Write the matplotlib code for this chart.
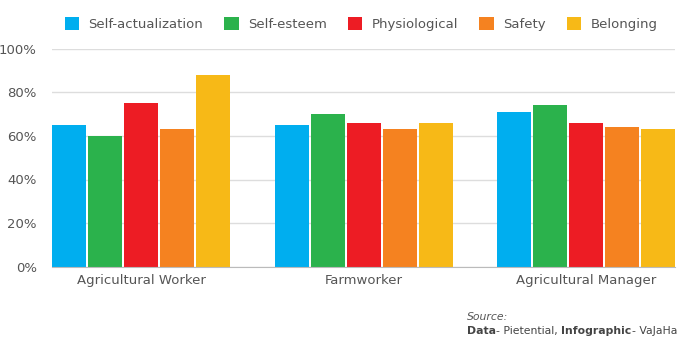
import numpy as np
import matplotlib
matplotlib.use('Agg')
import matplotlib.pyplot as plt
from matplotlib.patches import Patch

groups = ['Agricultural Worker', 'Farmworker', 'Agricultural Manager']
series = ['Self-actualization', 'Self-esteem', 'Physiological', 'Safety', 'Belonging']
self_actualization = [65, 65, 71]
self_esteem = [60, 70, 74]
physiological = [75, 66, 66]
safety = [63, 63, 64]
belonging = [88, 66, 63]
values = [self_actualization, self_esteem, physiological, safety, belonging]
colors = ['#00AEEF', '#2BB24C', '#ED1C24', '#F58220', '#F7B917']
yticks = [0, 20, 40, 60, 80, 100]

plt.rcParams['font.family'] = ['DejaVu Sans']
text_col = '#555555'

fig = plt.figure(figsize=(6.91, 3.52), dpi=100)
W, H = 691, 352
ax = fig.add_axes([52 / W, (H - 266.7) / H, (675 - 52) / W, 218 / H])

# ----------------------------------------------------------------------------
# grouped bars
# ----------------------------------------------------------------------------
pitch = 36 / 222.5
width = 34 / 222.5
x = np.arange(len(groups))
for i, (vals, c) in enumerate(zip(values, colors)):
  ax.bar(x + (i - 2) * pitch, vals, width, color=c, zorder=3)

ax.set_xlim(-2.5 * pitch + (pitch - width) / 2, 2 + 2.5 * pitch - (pitch - width) / 2)
ax.set_ylim(0, 100)
ax.set_yticks(yticks)
ax.set_yticklabels(['%d%%' % t for t in yticks])
ax.set_xticks(x)
ax.set_xticklabels(groups)
ax.tick_params(axis='both', length=0, labelsize=9.5, colors=text_col)
ax.tick_params(axis='y', pad=11)
ax.tick_params(axis='x', pad=5)
ax.grid(axis='y', color='#dddddd', linewidth=1, zorder=0)
for s in ['top', 'right', 'left']:
  ax.spines[s].set_visible(False)
ax.spines['bottom'].set_color('#bbbbbb')
ax.spines['bottom'].set_zorder(4)

# ----------------------------------------------------------------------------
# legend
# ----------------------------------------------------------------------------
handles = [Patch(facecolor=c, edgecolor='none') for c in colors]
leg = fig.legend(handles, series, loc='center', bbox_to_anchor=(361 / W, 1 - 24 / H),
                 ncol=5, frameon=False, fontsize=9.5, handlelength=1.1,
                 handleheight=1.1, handletextpad=0.7, columnspacing=1.6)
for t in leg.get_texts():
  t.set_color(text_col)

# ----------------------------------------------------------------------------
# source note
# ----------------------------------------------------------------------------
fig.text(467 / W, 1 - 317 / H, 'Source:', fontsize=7.8, style='italic',
         color=text_col, va='center')
fig.canvas.draw()
r = fig.canvas.get_renderer()
xpos = 467
for txt, wt in [('Data', 'bold'), ('- Pietential, ', 'normal'),
                ('Infographic', 'bold'), ('- VaJaHa', 'normal')]:
  t = fig.text(xpos / W, 1 - 331 / H, txt, fontsize=7.8, fontweight=wt,
               color='#444444', va='center')
  xpos += t.get_window_extent(r).width

fig.savefig('out.png', dpi=100)
